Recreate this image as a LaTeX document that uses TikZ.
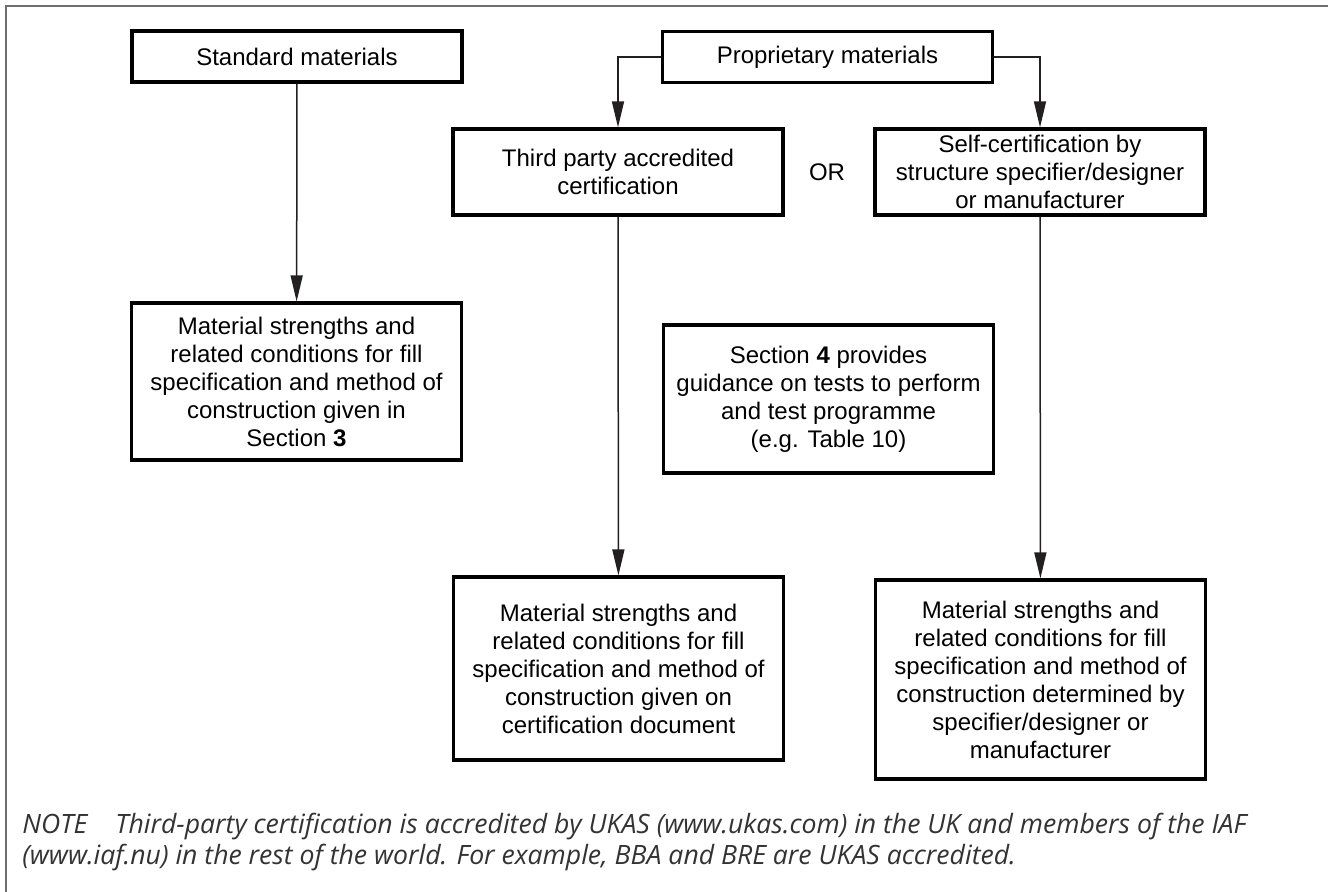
\documentclass[tikz,border=0pt]{standalone}
\usepackage{fontspec}
\setmainfont{Liberation Sans}
\newfontfamily\notefont{Open Sans}
\usetikzlibrary{arrows.meta}

\definecolor{framegray}{HTML}{6E6E6E}
\definecolor{inkblack}{HTML}{231F20}
\definecolor{notegray}{HTML}{333333}

\tikzset{
  box/.style={draw=black, line width=1.6pt, align=center, inner sep=0pt,
    font=\fontsize{12}{14}\selectfont},
  flow/.style={draw=inkblack, line width=0.75pt, -{Triangle[length=13pt,width=6pt]}},
}

\begin{document}
\begin{tikzpicture}[x=0.5pt,y=-0.5pt]
        % 1. MEDIDAS (coordenadas em pixels da figura)
        \def\W{165pt}    % largura comum das caixas

        \useasboundingbox (0,0) rectangle (1328,891);

        % moldura cinza
        \draw[framegray, line width=1pt] (6,900) -- (6,6) -- (1340,6);

        % ==========================================
        % 2. LINHA DE CIMA
        % ==========================================
        \node[box, minimum width=\W, minimum height=25.5pt] (std) at (297,56.5) {Standard materials};
        \node[box, minimum width=\W, minimum height=25.5pt] (prop) at (827.5,57) {Proprietary materials};

        \node[box, minimum width=\W, minimum height=43pt] (third) at (618,172)
            {Third party accredited\\certification};
        \node (or) at (827,172) {\fontsize{12}{14}\selectfont OR};
        \node[box, minimum width=\W, minimum height=43pt] (self) at (1040,172)
            {Self-certification by\\structure specifier/designer\\or manufacturer};

        % ==========================================
        % 3. CAIXAS DE RESULTADO
        % ==========================================
        \node[box, minimum width=\W, minimum height=78.5pt] (stdres) at (296.5,381.5)
            {Material strengths and\\related conditions for fill\\specification and method of\\construction given in\\Section \textbf{3}};

        \node[box, minimum width=\W, minimum height=74pt] (sec4) at (828.5,399)
            {Section \textbf{4} provides\\guidance on tests to perform\\and test programme\\(e.g. Table 10)};

        \node[box, minimum width=\W, minimum height=91.5pt] (thirdres) at (618.5,668.5)
            {Material strengths and\\related conditions for fill\\specification and method of\\construction given on\\certification document};

        \node[box, minimum width=\W, minimum height=99.5pt] (selfres) at (1040.5,679.5)
            {Material strengths and\\related conditions for fill\\specification and method of\\construction determined by\\specifier/designer or\\manufacturer};

        % ligações
        \draw[flow] (std) -- (stdres);
        \draw[flow] (prop.west) -| (third.north);
        \draw[flow] (prop.east) -| (self.north);
        \draw[flow] (third) -- (thirdres);
        \draw[flow] (self) -- (selfres);

        % ==========================================
        % 4. NOTA
        % ==========================================
        \node[anchor=west, align=left, inner sep=0pt, text=notegray,
              font=\notefont\itshape\fontsize{13.3}{15.5}\selectfont] (note) at (22,842)
            {NOTE\hspace{14pt}Third-party certification is accredited by UKAS (www.ukas.com) in the UK and members of the IAF\\(www.iaf.nu) in the rest of the world. For example, BBA and BRE are UKAS accredited.};
    \end{tikzpicture}
\end{document}
